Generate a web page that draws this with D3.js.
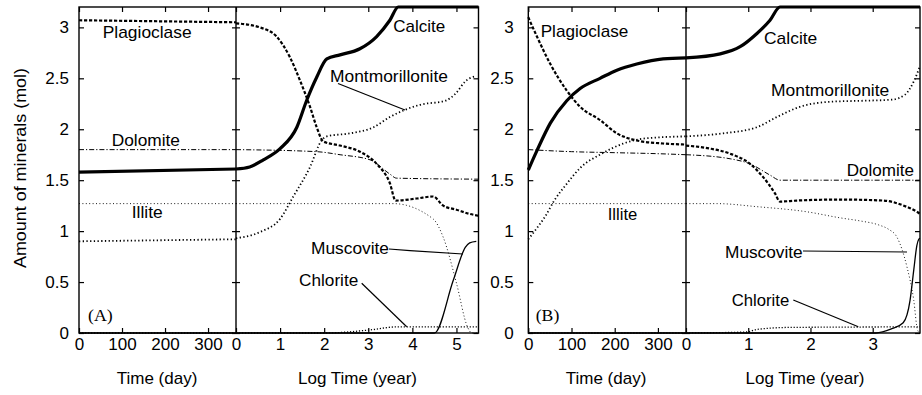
<!DOCTYPE html>
<html><head><meta charset="utf-8">
<script src="https://cdn.jsdelivr.net/npm/d3@7"></script>
<style>
body{margin:0;background:#fff}
svg{display:block}
text{font-family:"Liberation Sans",Arial,Helvetica,sans-serif;fill:#000}
</style>
</head><body>
<svg id="chart" width="922" height="395"></svg>
<script>
// ---------- tick labels ----------
const yTicks = [0, 0.5, 1, 1.5, 2, 2.5, 3];
const dayTicks = [0, 100, 200, 300];
const logTicksA = [0, 1, 2, 3, 4, 5];
const logTicksB = [0, 1, 2, 3];

// ---------- Panel A : time in days (0..365) ----------
const A_day_calcite = [[0,1.58],[365,1.61]];
const A_day_plag    = [[0,3.07],[365,3.05]];
const A_day_dolo    = [[0,1.80],[365,1.80]];
const A_day_illite  = [[0,1.27],[365,1.27]];
const A_day_mont    = [[0,0.90],[365,0.92]];
const A_day_musc    = [[0,0],[365,0]];
const A_day_chlo    = [[0,0],[365,0]];
// ---------- Panel A : log time (year) ----------
const A_log_calcite = [[0,1.61],[0.31,1.63],[0.62,1.70],[1.0,1.81],[1.38,2.02],[1.6,2.28],[1.83,2.51],[2.06,2.69],[2.36,2.73],[2.81,2.79],[3.19,2.91],[3.49,3.07],[3.68,3.2],[5.5,3.2]];
const A_log_plag    = [[0,3.04],[0.54,3.0],[0.92,2.91],[1.22,2.71],[1.45,2.48],[1.68,2.22],[1.83,2.02],[1.98,1.88],[2.36,1.84],[2.81,1.78],[3.19,1.66],[3.49,1.47],[3.62,1.30],[4.1,1.32],[4.47,1.34],[4.7,1.25],[5.0,1.21],[5.29,1.17],[5.5,1.15]];
const A_log_mont    = [[0,0.93],[0.54,0.99],[1.0,1.12],[1.3,1.34],[1.68,1.63],[1.94,1.89],[2.06,1.93],[2.59,1.96],[3.12,2.02],[3.49,2.12],[3.83,2.19],[4.17,2.24],[4.75,2.28],[5.0,2.36],[5.2,2.47],[5.35,2.51],[5.45,2.52]];
const A_log_dolo    = [[0,1.80],[1.83,1.78],[2.36,1.75],[3.04,1.70],[3.49,1.56],[3.64,1.52],[5.5,1.51]];
const A_log_illite  = [[0,1.27],[3.57,1.27],[4.47,1.12],[4.7,0.94],[5.0,0.49],[5.25,0.06],[5.35,0],[5.5,0]];
const A_log_musc    = [[0,0],[4.5,0],[4.93,0.52],[5.2,0.84],[5.3,0.885],[5.45,0.9]];
const A_log_chlo    = [[0,0],[2.0,0],[3.04,0.03],[3.64,0.06],[5.5,0.06]];

// ---------- Panel B : time in days (0..365) ----------
const B_day_calcite = [[0,1.60],[20,1.79],[51,2.06],[89,2.28],[120,2.40],[166,2.50],[205,2.58],[251,2.64],[312,2.69],[365,2.70]];
const B_day_plag    = [[0,3.10],[3,3.07],[20,2.91],[51,2.64],[89,2.38],[120,2.22],[166,2.09],[205,1.96],[251,1.89],[312,1.86],[365,1.85]];
const B_day_dolo    = [[0,1.80],[100,1.78],[200,1.77],[300,1.76],[365,1.75]];
const B_day_illite  = [[0,1.27],[365,1.27]];
const B_day_mont    = [[0,0.92],[20,1.03],[40,1.15],[60,1.30],[90,1.47],[120,1.62],[170,1.76],[220,1.86],[270,1.91],[365,1.93]];
const B_day_musc    = [[0,0],[365,0]];
const B_day_chlo    = [[0,0],[365,0]];
// ---------- Panel B : log time (year) ----------
const B_log_calcite = [[0,2.70],[0.55,2.74],[0.87,2.81],[1.14,2.94],[1.35,3.07],[1.51,3.2],[3.76,3.2]];
const B_log_plag    = [[0,1.84],[0.39,1.81],[0.71,1.76],[1.03,1.66],[1.24,1.53],[1.43,1.37],[1.51,1.29],[1.78,1.30],[2.48,1.31],[3.17,1.30],[3.5,1.25],[3.71,1.19],[3.76,1.17]];
const B_log_dolo    = [[0,1.75],[0.71,1.71],[1.03,1.66],[1.35,1.55],[1.51,1.50],[3.76,1.50]];
const B_log_illite  = [[0,1.27],[0.5,1.27],[1.14,1.24],[1.94,1.19],[2.48,1.13],[2.8,1.10],[3.1,1.06],[3.25,1.02],[3.39,0.94],[3.55,0.65],[3.66,0.32],[3.72,0.03],[3.76,0]];
const B_log_mont    = [[0,1.93],[0.6,1.96],[1.14,2.02],[1.46,2.12],[1.83,2.22],[2.32,2.27],[2.85,2.28],[3.3,2.29],[3.52,2.34],[3.66,2.47],[3.76,2.62]];
const B_log_musc    = [[0,0],[3.05,0],[3.3,0.04],[3.49,0.10],[3.6,0.32],[3.66,0.62],[3.71,0.86],[3.74,0.92],[3.76,0.93]];
const B_log_chlo    = [[0,0],[0.98,0.01],[1.14,0.035],[1.67,0.055],[3.76,0.06]];

// ---------- styles ----------
const styles = {
  calcite:{w:3.2, dash:null},
  plag:{w:2.2, dash:"3.2,1.8"},
  mont:{w:1.8, dash:"1.3,2.4"},
  dolo:{w:1.0, dash:"5,2,1.2,2"},
  illite:{w:0.9, dash:"1,2.4"},
  musc:{w:1.3, dash:null},
  chlo:{w:1.3, dash:"1.2,1.8"}
};

const panels = [
  { x0:79, xm:236, x1:478.5, logMax:5.5, logTicks:logTicksA, labPad:10,
    day:{calcite:A_day_calcite, plag:A_day_plag, dolo:A_day_dolo, illite:A_day_illite, mont:A_day_mont, musc:A_day_musc, chlo:A_day_chlo},
    log:{calcite:A_log_calcite, plag:A_log_plag, dolo:A_log_dolo, illite:A_log_illite, mont:A_log_mont, musc:A_log_musc, chlo:A_log_chlo},
    titles:[["Time (day)",157],["Log Time (year)",357.5]],
    labels:[["Plagioclase",102.7,37.5,89],["Dolomite",111.7,146,68.3],["Illite",131.7,218.3,31],
            ["Calcite",393.3,31.7,52],["Montmorillonite",330,81.7,118],["Muscovite",311,254.3,78],["Chlorite",299,285.7,59.3]],
    tag:["(A)",88,321,24.7],
    leaders:[[[338,83.5],[405,110]],[[389,249],[410,250.7],[463,254]],[[361.7,283.3],[406.7,326.7]]]
  },
  { x0:528.3, xm:686, x1:920, logMax:3.76, logTicks:logTicksB, labPad:14.5,
    day:{calcite:B_day_calcite, plag:B_day_plag, dolo:B_day_dolo, illite:B_day_illite, mont:B_day_mont, musc:B_day_musc, chlo:B_day_chlo},
    log:{calcite:B_log_calcite, plag:B_log_plag, dolo:B_log_dolo, illite:B_log_illite, mont:B_log_mont, musc:B_log_musc, chlo:B_log_chlo},
    titles:[["Time (day)",606],["Log Time (year)",805]],
    labels:[["Plagioclase",540.7,37.3,87.6],["Calcite",764,44,53.3],["Montmorillonite",771,96,118.3],["Dolomite",846.7,175.7,67.3],
            ["Illite",607.7,220,29.6],["Muscovite",725,258.3,77.7],["Chlorite",731.7,305.7,57.6]],
    tag:["(B)",535.7,321,23.6],
    leaders:[[[803,251],[907,252]],[[793.3,300],[858.3,326.7]]]
  }
];

const svg = d3.select("#chart");
const FS = 17;
const y = d3.scaleLinear([0,3.2],[333,7]);

function styleAxis(g, pad){
  g.select(".domain").remove();
  g.selectAll(".tick line").attr("stroke","#000").attr("stroke-width",1.2);
  g.selectAll("text").attr("font-size",FS).attr("font-family","'Liberation Sans',Arial,sans-serif").attr("fill","#000");
}

panels.forEach(p => {
  const g = svg.append("g");
  const xD = d3.scaleLinear([0,365],[p.x0,p.xm]);
  const xL = d3.scaleLinear([0,p.logMax],[p.xm,p.x1]);

  // curves
  const order = ["illite","dolo","chlo","musc","mont","plag","calcite"];
  [[xD,p.day],[xL,p.log]].forEach(([xs,set]) => {
    const line = d3.line().x(d=>xs(d[0])).y(d=>y(d[1])).curve(d3.curveMonotoneX);
    order.forEach(k => {
      const s = styles[k];
      g.append("path").attr("d", line(set[k])).attr("fill","none").attr("stroke","#000")
        .attr("stroke-width", s.w).attr("stroke-dasharray", s.dash)
        .attr("stroke-linejoin","round");
    });
  });

  // frame & divider
  g.append("rect").attr("x",p.x0).attr("y",y(3.2)).attr("width",p.x1-p.x0).attr("height",y(0)-y(3.2))
    .attr("fill","none").attr("stroke","#000").attr("stroke-width",1.4);
  g.append("line").attr("x1",p.xm).attr("x2",p.xm).attr("y1",y(3.2)).attr("y2",y(0))
    .attr("stroke","#000").attr("stroke-width",1.4);

  // bottom axes
  g.append("g").attr("transform",`translate(0,${y(0)})`)
    .call(d3.axisBottom(xD).tickValues(dayTicks).tickSizeInner(-5).tickSizeOuter(0).tickPadding(5).tickFormat(d=>String(d)))
    .call(a=>styleAxis(a));
  g.append("g").attr("transform",`translate(0,${y(0)})`)
    .call(d3.axisBottom(xL).tickValues(p.logTicks).tickSizeInner(-5).tickSizeOuter(0).tickPadding(5).tickFormat(d=>String(d)))
    .call(a=>styleAxis(a));
  // top axes (ticks only)
  g.append("g").attr("transform",`translate(0,${y(3.2)})`)
    .call(d3.axisTop(xD).tickValues(dayTicks).tickSizeInner(-5).tickSizeOuter(0).tickFormat(""))
    .call(a=>styleAxis(a));
  g.append("g").attr("transform",`translate(0,${y(3.2)})`)
    .call(d3.axisTop(xL).tickValues(p.logTicks).tickSizeInner(-5).tickSizeOuter(0).tickFormat(""))
    .call(a=>styleAxis(a));
  // left axis
  g.append("g").attr("transform",`translate(${p.x0},0)`)
    .call(d3.axisLeft(y).tickValues(yTicks).tickSizeInner(-5).tickSizeOuter(0).tickPadding(p.labPad).tickFormat(d=>String(d)))
    .call(a=>styleAxis(a));
  // divider cross ticks
  g.append("g").attr("transform",`translate(${p.xm},0)`)
    .call(d3.axisLeft(y).tickValues(yTicks).tickSizeInner(4).tickSizeOuter(0).tickFormat(""))
    .call(a=>styleAxis(a));
  g.append("g").attr("transform",`translate(${p.xm},0)`)
    .call(d3.axisRight(y).tickValues(yTicks).tickSizeInner(4).tickSizeOuter(0).tickFormat(""))
    .call(a=>styleAxis(a));
  // right axis
  g.append("g").attr("transform",`translate(${p.x1},0)`)
    .call(d3.axisRight(y).tickValues(yTicks).tickSizeInner(-5).tickSizeOuter(0).tickFormat(""))
    .call(a=>styleAxis(a));

  // axis titles
  p.titles.forEach(([t,cx]) => {
    g.append("text").attr("x",cx).attr("y",383.5).attr("text-anchor","middle").attr("font-size",FS).text(t);
  });

  // leader lines
  p.leaders.forEach(pts => {
    g.append("path").attr("d", d3.line()(pts)).attr("fill","none").attr("stroke","#000").attr("stroke-width",1.2);
  });

  // labels
  p.labels.forEach(([t,x,by,len]) => {
    g.append("text").attr("x",x).attr("y",by).attr("font-size",FS)
      .attr("textLength",len).attr("lengthAdjust","spacingAndGlyphs").text(t);
  });
  const [tt,tx,ty,tl] = p.tag;
  g.append("text").attr("x",tx).attr("y",ty).attr("font-size",FS)
    .style("font-family","'Liberation Serif','Times New Roman',serif")
    .attr("textLength",tl).attr("lengthAdjust","spacingAndGlyphs").text(tt);
});

// y axis title
svg.append("text").attr("transform","translate(25.5,168) rotate(-90)")
  .attr("text-anchor","middle").attr("font-size",FS)
  .attr("textLength",200).attr("lengthAdjust","spacingAndGlyphs")
  .text("Amount of minerals (mol)");
</script>
</body></html>
